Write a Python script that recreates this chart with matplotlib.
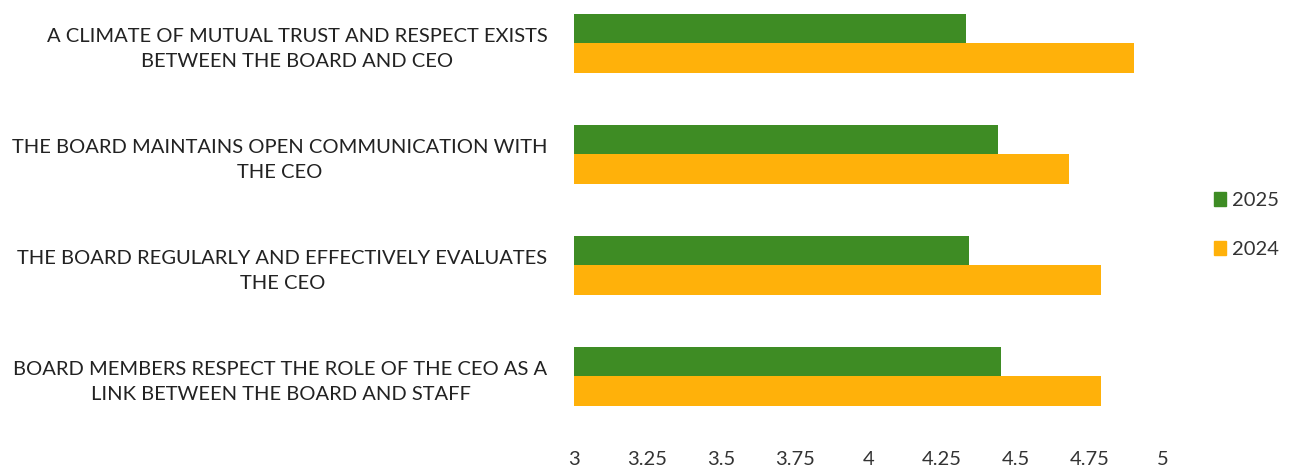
import matplotlib.pyplot as plt
from matplotlib.patches import Patch
import numpy as np

plt.rcParams['font.family'] = ['Lato', 'DejaVu Sans']

labels = [
    'A CLIMATE OF MUTUAL TRUST AND RESPECT EXISTS\nBETWEEN THE BOARD AND CEO',
    'THE BOARD MAINTAINS OPEN COMMUNICATION WITH\nTHE CEO',
    'THE BOARD REGULARLY AND EFFECTIVELY EVALUATES\nTHE CEO',
    'BOARD MEMBERS RESPECT THE ROLE OF THE CEO AS A\nLINK BETWEEN THE BOARD AND STAFF',
]
scores_2025 = [4.33, 4.44, 4.34, 4.45]
scores_2024 = [4.90, 4.68, 4.79, 4.79]
ticks = [3, 3.25, 3.5, 3.75, 4, 4.25, 4.5, 4.75, 5]
tick_labels = ['3', '3.25', '3.5', '3.75', '4', '4.25', '4.5', '4.75', '5']

green = '#3E8C24'
gold = '#FFB10A'

fig = plt.figure(figsize=(12.94, 4.73), dpi=100)
ax = fig.add_axes([574 / 1294, 1 - 432 / 473, (1163 - 574) / 1294, 432 / 473])

y = np.arange(len(labels))
h = 0.265
ax.barh(y - h / 2, np.array(scores_2025) - 3, height=h, left=3, color=green)
ax.barh(y + h / 2, np.array(scores_2024) - 3, height=h, left=3, color=gold)

ax.set_xlim(3, 5)
ax.set_ylim(3.5, -0.39)
ax.set_xticks(ticks)
ax.set_xticklabels(tick_labels, fontsize=14.5, color='#333333')
ax.set_yticks(y)
ax.set_yticklabels(labels, fontsize=14.5, color='#222222',
                   multialignment='center', linespacing=1.6)
ax.tick_params(axis='both', length=0)
ax.tick_params(axis='x', pad=14)
ax.tick_params(axis='y', pad=19)
for s in ax.spines.values():
    s.set_visible(False)

handles = [Patch(color=green, label='2025'), Patch(color=gold, label='2024')]
fig.legend(handles=handles, loc='center left', bbox_to_anchor=(1196 / 1294, 1 - 225 / 473),
           frameon=False, fontsize=14.5, handlelength=0.6, handleheight=0.7,
           handletextpad=0.3, labelspacing=1.55, labelcolor='#333333')

fig.savefig('out.png', dpi=100)
